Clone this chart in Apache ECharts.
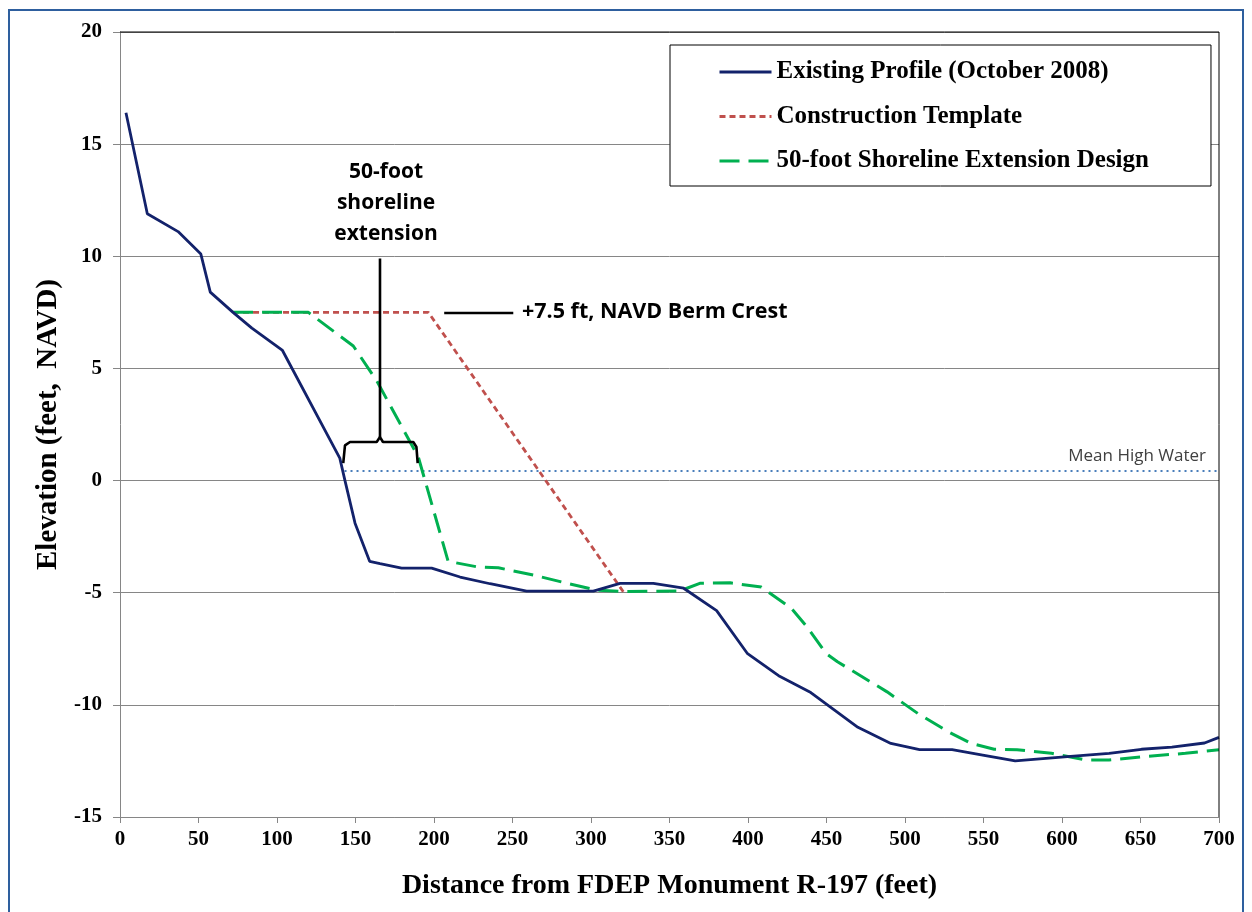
<!DOCTYPE html>
<html>
<head>
<meta charset="utf-8">
<script src="https://cdn.jsdelivr.net/npm/echarts@6/dist/echarts.min.js"></script>
<style>
html,body{margin:0;padding:0;background:#fff;}
#chart{width:1252px;height:912px;}
</style>
</head>
<body>
<div id="chart"></div>
<script>
// ---- Data (distance ft, elevation ft NAVD) ----
const existingProfile = [
  [3.8,16.4],[17.4,11.9],[37,11.1],[51.5,10.1],[57.5,8.4],[72,7.5],[84,6.8],[103.5,5.8],
  [140,1.0],[143.3,0.0],[149.7,-1.9],[159,-3.6],[165.6,-3.7],[179.4,-3.9],[198.5,-3.9],
  [216.6,-4.3],[235.7,-4.6],[259,-4.93],[301.5,-4.93],[318.5,-4.58],[339.7,-4.58],[359,-4.8],
  [380,-5.8],[399.5,-7.7],[419.5,-8.7],[440,-9.45],[470,-11.0],[491,-11.72],[509.3,-12.0],
  [530,-12.0],[549.5,-12.24],[570.2,-12.5],[605.5,-12.3],[630,-12.16],[650.6,-11.98],
  [670,-11.88],[690.8,-11.7],[700,-11.45]
];
const constructionTemplate = [[72,7.5],[196.4,7.5],[321,-5.0]];
const extensionDesign = [
  [72,7.5],[120,7.5],[148.6,6.0],[163.5,4.45],[190,1.05],[209,-3.6],[227,-3.84],[241,-3.89],
  [263.3,-4.21],[286.6,-4.61],[303.6,-4.88],[320,-4.95],[356.7,-4.92],[369.3,-4.58],
  [388.7,-4.56],[408.5,-4.75],[427.7,-5.7],[437.5,-6.52],[449.6,-7.7],[457,-8.08],
  [488.6,-9.42],[508.1,-10.38],[527.6,-11.2],[542.2,-11.72],[556.8,-11.98],[571.4,-12.0],
  [593.3,-12.16],[615.3,-12.46],[630,-12.46],[651.8,-12.31],[678.6,-12.16],[700,-12.0]
];
const meanHighWater = [[143,0.43],[700,0.43]];
// annotation shapes (data coordinates)
const braceShape = [[142.2,0.78],[143.3,1.57],[146.5,1.72],[163.5,1.72],[165.6,1.94],[167.5,1.72],[186.8,1.72],[188.8,1.5],[189.6,0.78]];
const braceStem = [[165.6,1.94],[165.6,9.9]];
const bermPointer = [[206.5,7.47],[250.5,7.47]];

const seriesNames = ['Existing Profile (October 2008)','Construction Template','50-foot Shoreline Extension Design'];
const xTitle = 'Distance from FDEP Monument R-197 (feet)';
const yTitle = 'Elevation (feet,  NAVD)';
const extensionLabel = ['50-foot','shoreline','extension'];
const bermLabel = '+7.5 ft, NAVD Berm Crest';
const mhwLabel = 'Mean High Water';

const chart = echarts.init(document.getElementById('chart'), null, {renderer:'canvas'});
const serif = 'Liberation Serif, Times New Roman, serif';
const sans = 'Open Sans, Liberation Sans, sans-serif';
const axisGray = '#868686';

const annoLine = (data) => ({
  type:'line', data, symbol:'none', silent:true, z:4,
  lineStyle:{color:'#000', width:2.6, type:'solid'}
});

const option = {
  animation:false,
  backgroundColor:'#fff',
  grid:{left:120, right:33, top:32, bottom:95},
  legend:{
    data:seriesNames,
    orient:'vertical',
    left:670, top:45,
    padding:[12,62,10,48],
    itemGap:14.5,
    itemWidth:52, itemHeight:14,
    selectedMode:false,
    backgroundColor:'#fff',
    borderColor:'#000', borderWidth:1,
    itemStyle:{opacity:0, borderWidth:0},
    lineStyle:{width:3},
    textStyle:{fontFamily:serif, fontWeight:'bold', fontSize:25, color:'#000', lineHeight:30}
  },
  xAxis:{
    type:'value', min:0, max:700, interval:50,
    name:xTitle, nameLocation:'middle', nameGap:55,
    nameTextStyle:{fontFamily:serif, fontWeight:'bold', fontSize:28, color:'#000'},
    axisLine:{show:true, onZero:false, lineStyle:{color:axisGray, width:1}},
    axisTick:{show:true, inside:false, length:6, lineStyle:{color:axisGray}},
    axisLabel:{fontFamily:serif, fontWeight:'bold', fontSize:21, color:'#000', margin:12},
    splitLine:{show:false}
  },
  yAxis:{
    type:'value', min:-15, max:20, interval:5,
    name:yTitle, nameLocation:'middle', nameGap:55, nameRotate:90,
    nameTextStyle:{fontFamily:serif, fontWeight:'bold', fontSize:29, color:'#000'},
    axisLine:{show:true, onZero:false, lineStyle:{color:axisGray, width:1}},
    axisTick:{show:true, length:7, lineStyle:{color:axisGray}},
    axisLabel:{fontFamily:serif, fontWeight:'bold', fontSize:21, color:'#000', margin:18},
    splitLine:{show:true, lineStyle:{color:axisGray, width:1}}
  },
  series:[
    {
      name:seriesNames[0], type:'line', data:existingProfile, symbol:'none', z:5,
      lineStyle:{color:'#13226b', width:2.8, type:'solid'}, itemStyle:{color:'#13226b'}
    },
    {
      name:seriesNames[1], type:'line', data:constructionTemplate, symbol:'none', z:3,
      lineStyle:{color:'#c0504d', width:2.8, type:[6,4]}, itemStyle:{color:'#c0504d'}
    },
    {
      name:seriesNames[2], type:'line', data:extensionDesign, symbol:'none', z:4,
      lineStyle:{color:'#00b050', width:3, type:[20,9]}, itemStyle:{color:'#00b050'}
    },
    {
      name:'MHW', type:'line', data:meanHighWater, symbol:'none', silent:true, z:2,
      lineStyle:{color:'#4a7ebb', width:2, type:[2,4]}
    },
    annoLine(braceShape),
    annoLine(braceStem),
    annoLine(bermPointer)
  ],
  graphic:[
    {type:'rect', silent:true, z:100, shape:{x:9,y:10,width:1234,height:910},
     style:{fill:'none', stroke:'#2e5f9e', lineWidth:2}},
    {type:'polyline', silent:true, z:50, shape:{points:[[120,32],[1219,32],[1219,817]]},
     style:{fill:'none', stroke:'#000', lineWidth:1}},
    {type:'text', z:50, style:{text:extensionLabel.join('\n'), x:386, y:157, align:'center', verticalAlign:'top',
      font:'bold 21px '+sans, fill:'#000', lineHeight:31}},
    {type:'text', z:50, style:{text:bermLabel, x:522, y:312, align:'left', verticalAlign:'middle',
      font:'bold 21.5px '+sans, fill:'#000'}},
    {type:'text', z:50, style:{text:mhwLabel, x:1206, y:456, align:'right', verticalAlign:'middle',
      font:'17px '+sans, fill:'#404040'}}
  ]
};
chart.setOption(option);
</script>
</body>
</html>
